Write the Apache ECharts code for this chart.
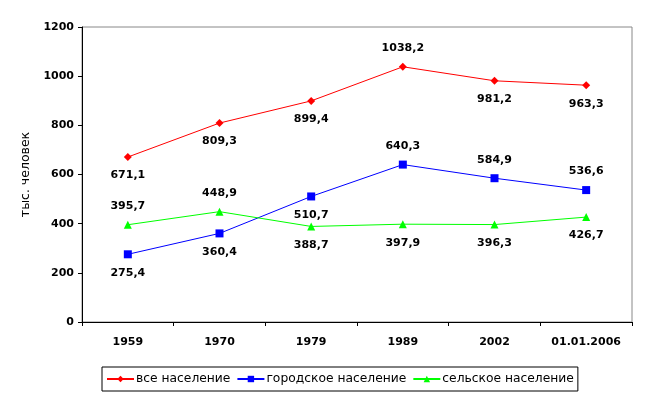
<!DOCTYPE html>
<html><head><meta charset="utf-8">
<script src="https://cdn.jsdelivr.net/npm/echarts@6/dist/echarts.min.js"></script>
<style>html,body{margin:0;padding:0;background:#fff}#c{width:649px;height:399px}</style>
</head><body><div id="c"></div>
<script>
const categories = ['1959', '1970', '1979', '1989', '2002', '01.01.2006'];
const totalPop = [671.1, 809.3, 899.4, 1038.2, 981.2, 963.3];
const urbanPop = [275.4, 360.4, 510.7, 640.3, 584.9, 536.6];
const ruralPop = [395.7, 448.9, 388.7, 397.9, 396.3, 426.7];
const seriesNames = ['все население', 'городское население', 'сельское население'];
const yTicks = [0, 200, 400, 600, 800, 1000, 1200];

const chart = echarts.init(document.getElementById('c'));
const fmt = v => v.toFixed(1).replace('.', ',');
function mk(name, values, color, symbol, size, placement) {
  return {
    name, type: 'line', data: values.map((v, i) => ({
      value: v,
      label: {position: placement[i] === 'a' ? 'top' : 'bottom'}
    })),
    symbol, symbolSize: size,
    itemStyle: {color},
    lineStyle: {color, width: 1},
    label: {show: true, color: '#000', fontFamily: 'DejaVu Sans', fontWeight: 'bold', fontSize: 11,
      distance: 9, formatter: p => fmt(p.value)},
    animation: false
  };
}
chart.setOption({
  backgroundColor: '#fff',
  animation: false,
  grid: {left: 82, right: 17, top: 27, bottom: 77, show: true, borderColor: '#888', borderWidth: 1},
  xAxis: {type: 'category', data: categories, boundaryGap: true,
    axisLine: {lineStyle: {color: '#000'}},
    axisTick: {show: true, length: 4, lineStyle: {color: '#000'}},
    axisLabel: {color: '#000', fontFamily: 'DejaVu Sans', fontWeight: 'bold', fontSize: 11, margin: 15}},
  yAxis: {type: 'value', min: yTicks[0], max: yTicks[yTicks.length - 1], interval: 200,
    name: 'тыс. человек', nameLocation: 'middle', nameGap: 33,
    nameTextStyle: {color: '#000', fontFamily: 'DejaVu Sans', fontSize: 12.5},
    axisLine: {show: true, lineStyle: {color: '#000'}},
    axisTick: {show: true, length: 4, lineStyle: {color: '#000'}},
    splitLine: {show: false},
    axisLabel: {color: '#000', fontFamily: 'DejaVu Sans', fontWeight: 'bold', fontSize: 11, margin: 8,
      formatter: v => String(v)}},
  legend: {bottom: 8, left: 102, itemWidth: 27, itemHeight: 8, itemGap: 6,
    borderColor: '#000', borderWidth: 1, padding: [6, 4, 6, 4],
    textStyle: {color: '#000', fontFamily: 'DejaVu Sans', fontSize: 12.3, padding: [0, 0, 0, -3]},
    data: seriesNames},
  series: [
    mk(seriesNames[0], totalPop, '#ff0000', 'diamond', 8, ['b','b','b','a','b','b']),
    mk(seriesNames[1], urbanPop, '#0000ff', 'rect', 8, ['b','b','b','a','a','a']),
    mk(seriesNames[2], ruralPop, '#00ff00', 'triangle', 8, ['a','a','b','b','b','b'])
  ]
});
</script></body></html>
